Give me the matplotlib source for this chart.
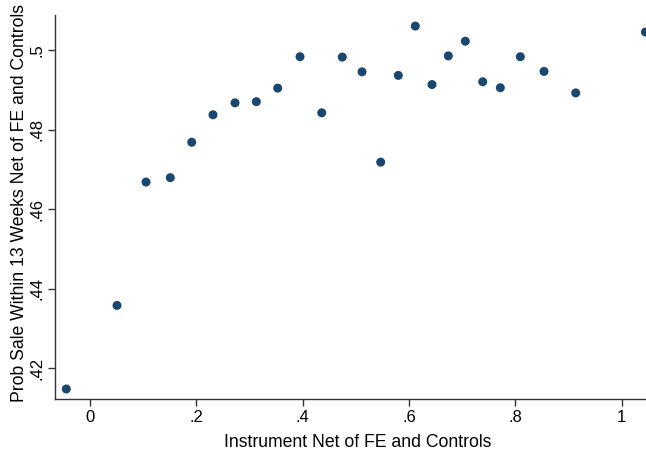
import matplotlib
matplotlib.use("Agg")
import matplotlib.pyplot as plt

# binned scatter values
instrument = [-0.0446, 0.0508, 0.1053, 0.1510, 0.1913, 0.2313, 0.2727, 0.3128,
              0.3530, 0.3950, 0.4358, 0.4745, 0.5116, 0.5467, 0.5798, 0.6118,
              0.6432, 0.6739, 0.7059, 0.7386, 0.7717, 0.8093, 0.8539, 0.9135,
              1.0447]
prob_sale = [0.4148, 0.4358, 0.4668, 0.4679, 0.4768, 0.4837, 0.4867, 0.4870,
             0.4904, 0.4983, 0.4842, 0.4982, 0.4945, 0.4718, 0.4936, 0.5060,
             0.4913, 0.4985, 0.5022, 0.4920, 0.4905, 0.4983, 0.4946, 0.4892,
             0.5045]

x_ticks = [0, 0.2, 0.4, 0.6, 0.8, 1.0]
x_tick_labels = ["0", ".2", ".4", ".6", ".8", "1"]
y_ticks = [0.42, 0.44, 0.46, 0.48, 0.50]
y_tick_labels = [".42", ".44", ".46", ".48", ".5"]

plt.rcParams["font.family"] = ["Liberation Sans", "DejaVu Sans"]

fig = plt.figure(figsize=(6.46, 4.53), dpi=100)
ax = fig.add_axes([0.0856, 0.1185, 0.9144, 0.8477])

ax.scatter(instrument, prob_sale, s=42, color="#1a476f", edgecolors="none", zorder=3)

ax.set_xlim(-0.0653, 1.0457)
ax.set_ylim(0.4122, 0.5087)

ax.set_xticks(x_ticks)
ax.set_xticklabels(x_tick_labels, fontsize=12)
ax.set_yticks(y_ticks)
ax.set_yticklabels(y_tick_labels, fontsize=12, rotation=90, va="center")

for side in ["top", "right"]:
    ax.spines[side].set_visible(False)
for side in ["left", "bottom"]:
    ax.spines[side].set_linewidth(1.0)
    ax.spines[side].set_color("#333333")
ax.tick_params(length=5, width=1.0, color="#333333", pad=3)

ax.set_xlabel("Instrument Net of FE and Controls", fontsize=12.7)
ax.set_ylabel("Prob Sale Within 13 Weeks Net of FE and Controls", fontsize=12.7)
ax.xaxis.set_label_coords(0.5125, -0.09)
ax.yaxis.set_label_coords(-0.046, 0.511)

fig.savefig("out.png", dpi=100)
